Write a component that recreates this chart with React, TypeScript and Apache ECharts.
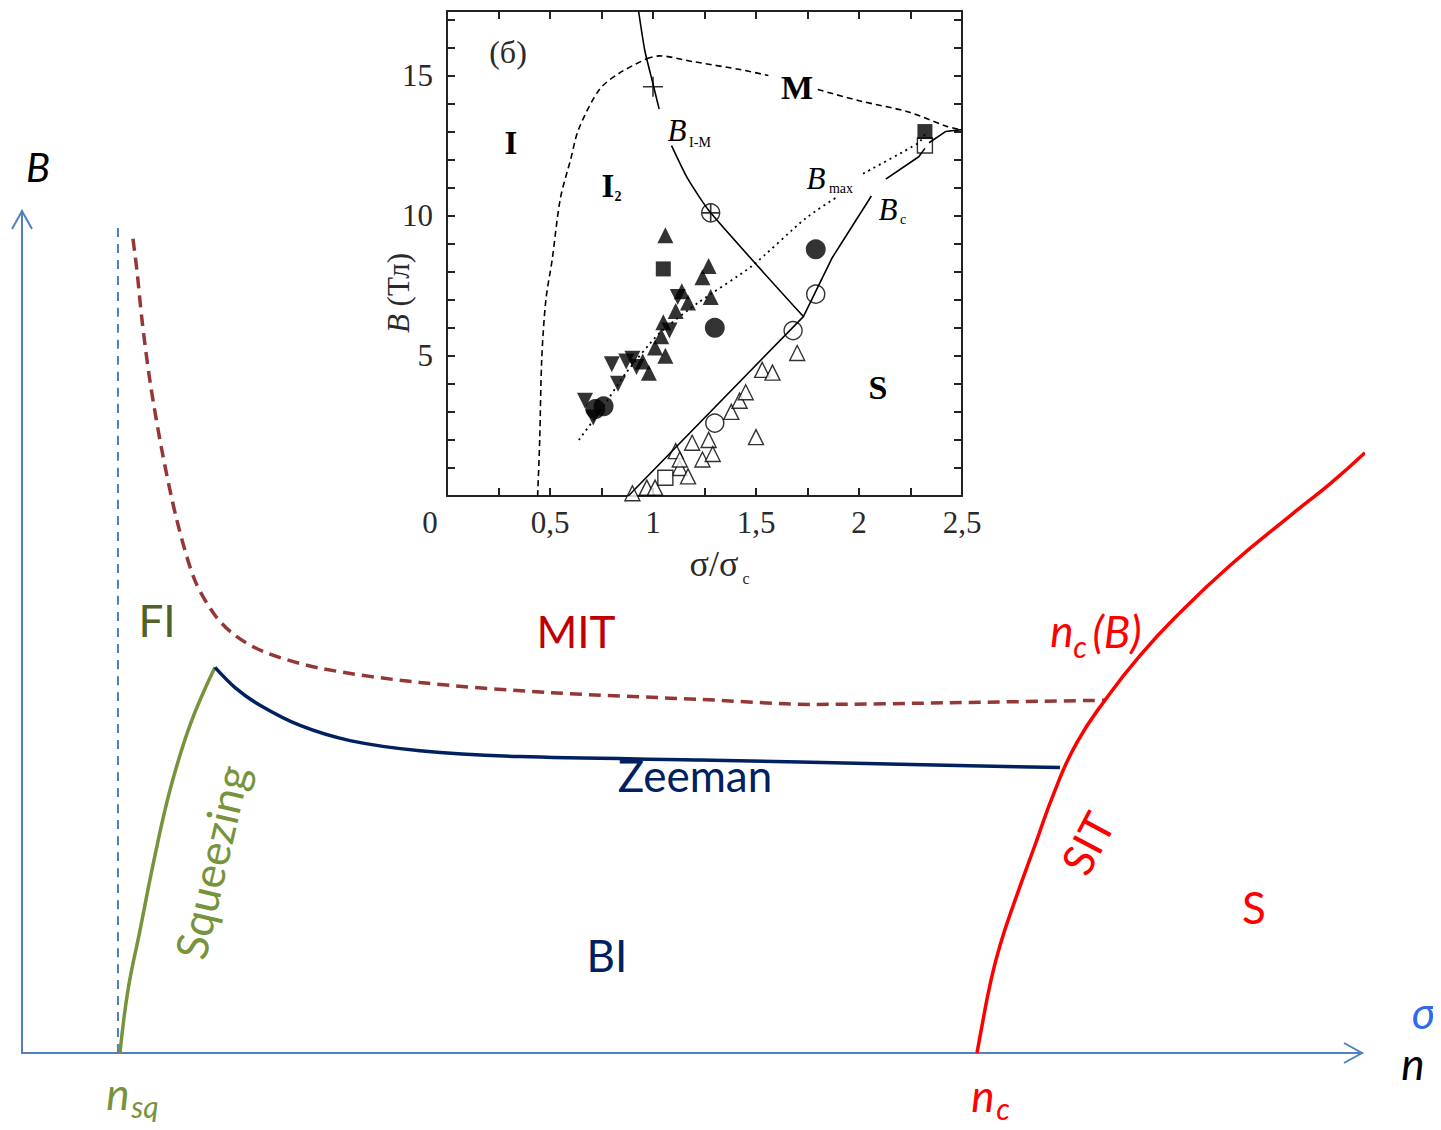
import React, { useEffect, useRef } from "react";
import * as echarts from "echarts";

// ---------- Main schematic (units: n 0..100, B 0..100) ----------
const nsqLine = [[7.16, 0], [7.16, 98.6]];
const squeezing = [[7.31, 0], [7.91, 7.48], [8.81, 14.6], [9.85, 22.9], [11.04, 31.2], [12.54, 38.95], [14.4, 45.8]];
const mitBoundary = [[8.28, 96.7], [8.58, 92.9], [8.96, 87.0], [9.55, 79.8], [10.45, 71.5], [11.57, 63.2], [12.91, 56.1], [14.4, 52.0], [15.9, 49.6], [18.13, 47.6], [22.24, 45.7], [29.7, 44.0], [39.4, 42.8], [50.6, 42.0], [59.18, 41.4], [69.25, 41.6], [80.82, 41.9]];
const zeeman = [[14.4, 45.8], [15.9, 43.4], [17.76, 41.3], [20.75, 38.9], [24.48, 37.1], [29.7, 35.9], [37.16, 35.2], [50.6, 34.8], [65.52, 34.3], [77.46, 33.9]];
const ncB = [[71.27, 0], [71.72, 3.9], [72.24, 8.1], [72.99, 12.8], [74.1, 18.1], [75.6, 24.7], [77.09, 31.2], [78.7, 36.8], [80.82, 41.9], [83.43, 47.2], [86.42, 52.3], [90.15, 57.9], [94.63, 63.8], [97.61, 67.6], [100.22, 71.3]];

// ---------- Inset (sigma/sigma_c, B in T) ----------
const insetXTickLabels = ["0,5", "1", "1,5", "2", "2,5"];
const insetYTickLabels = [5, 10, 15];
const iBoundary = [[0.44, 0], [0.45, 2], [0.46, 4.9], [0.48, 7], [0.51, 8.4], [0.55, 10.6], [0.6, 12], [0.64, 13.1], [0.74, 14.5], [0.84, 15.1], [0.97, 15.6]];
const mBoundaryA = [[0.97, 15.6], [1.03, 15.7], [1.19, 15.5], [1.43, 15.2], [1.56, 15.0]];
const mBoundaryB = [[1.8, 14.5], [2.0, 14.1], [2.24, 13.7], [2.42, 13.2], [2.5, 13.05]];
const bIMA = [[0.93, 17.3], [0.96, 15.9], [1.0, 14.7], [1.03, 13.8]];
const bIMB = [[1.09, 12.5], [1.17, 11.3], [1.28, 10.1], [1.73, 6.4]];
const bCA = [[0.88, 0], [1.73, 6.4], [1.87, 8.5], [2.06, 10.7]];
const bCB = [[2.13, 11.3], [2.29, 12.1], [2.32, 12.4]];
const bCC = [[2.34, 12.6], [2.42, 13.0], [2.5, 13.07]];
const bMaxA = [[0.64, 2.0], [0.75, 3.1], [0.87, 4.4], [1.03, 5.8], [1.22, 6.9], [1.48, 8.2], [1.74, 9.9], [1.9, 10.7]];
const bMaxB = [[2.02, 11.5], [2.29, 12.6], [2.32, 12.9]];

const triUpFilled = [[1.06, 9.3], [1.27, 8.2], [1.24, 7.8], [1.28, 7.1], [1.14, 7.3], [1.17, 6.9], [1.05, 6.2], [1.11, 6.6], [1.06, 5.0], [1.04, 5.7], [0.98, 4.4], [0.95, 4.8], [1.01, 5.3]];
const triDownFilled = [[0.67, 3.4], [0.71, 2.8], [0.8, 4.7], [0.83, 4.0], [0.87, 4.8], [0.92, 4.6], [1.08, 5.9], [1.12, 7.1], [0.9, 4.9]];
const circleFilled = [[0.72, 3.1], [0.76, 3.2], [1.3, 6.0], [1.79, 8.8]];
const squareFilled = [[1.05, 8.1], [2.32, 13.0]];
const triUpOpen = [[0.9, 0.1], [0.97, 0.3], [1.01, 0.3], [1.13, 1.0], [1.17, 0.7], [1.11, 1.6], [1.19, 1.9], [1.24, 1.3], [1.27, 2.0], [1.29, 1.5], [1.38, 3.0], [1.42, 3.4], [1.45, 3.7], [1.53, 4.5], [1.58, 4.4], [1.5, 2.1], [1.7, 5.1], [1.13, 1.3]];
const squareOpen = [[1.06, 0.65], [2.32, 12.5]];
const circleOpen = [[1.3, 2.6], [1.68, 5.9], [1.79, 7.2]];
const circlePlus = [[1.28, 10.1]];
const plusMark = [[1.0, 14.6]];

const AXIS_BLUE = "#4F81BD";
const INK = "#000000";
const LABEL = "#2a2a2a";
const SANS = "Lato, 'Open Sans', sans-serif";
const SERIF = "'Liberation Serif', 'DejaVu Serif', serif";

function txt(x: number, y: number, text: string, opts: any = {}) {
  const { rotation, ...style } = opts;
  return {
    type: "text",
    x,
    y,
    rotation: rotation || 0,
    style: {
      text,
      align: "center",
      verticalAlign: "middle",
      fontFamily: SANS,
      fontSize: 44,
      fill: "#000",
      ...style,
    },
    z: 10,
  };
}

export default function App() {
  const ref = useRef<HTMLDivElement>(null);
  useEffect(() => {
    if (!ref.current) return;
    const chart = echarts.init(ref.current, undefined, { renderer: "svg" });

    const mainLine = (data: number[][], color: string, width: number, type: any = "solid", smooth = 0.3) => ({
      type: "line",
      xAxisIndex: 0,
      yAxisIndex: 0,
      data,
      showSymbol: false,
      smooth,
      clip: false,
      lineStyle: { color, width, type, cap: "butt" },
      silent: true,
    });
    const insetLine = (data: number[][], type: any = "solid", width = 1.6, smooth: any = 0.3) => ({
      type: "line",
      xAxisIndex: 1,
      yAxisIndex: 1,
      data,
      showSymbol: false,
      smooth,
      clip: false,
      lineStyle: { color: INK, width, type },
      silent: true,
    });
    const insetScatter = (data: number[][], symbol: string, size: number, filled: boolean, rotate = 0) => ({
      type: "scatter",
      xAxisIndex: 1,
      yAxisIndex: 1,
      data,
      symbol,
      symbolSize: size,
      symbolRotate: rotate,
      clip: false,
      itemStyle: filled
        ? { color: INK }
        : { color: "#fff", borderColor: INK, borderWidth: 1.4 },
      silent: true,
    });

    const insetXLabel = (v: number) => {
      const i = Math.round(v * 2);
      if (Math.abs(v * 2 - i) > 1e-6 || i < 1) return "";
      return insetXTickLabels[i - 1] || "";
    };
    const insetYLabel = (v: number) => (insetYTickLabels.indexOf(v) >= 0 ? String(v) : "");

    const insetAxisCommon = {
      axisLine: { show: true, onZero: false, lineStyle: { color: "#222", width: 2 } },
      axisTick: { show: true, inside: true, length: 8, lineStyle: { color: "#222", width: 2 } },
      splitLine: { show: false },
    };

    const option: any = {
      animation: false,
      backgroundColor: "#fff",
      grid: [
        { left: 22, top: 211, width: 1340, height: 842 },
        { left: 447, top: 11, width: 515, height: 485 },
      ],
      xAxis: [
        {
          type: "value", gridIndex: 0, min: 0, max: 100,
          axisLine: { show: true, onZero: false, lineStyle: { color: AXIS_BLUE, width: 2 } },
          axisTick: { show: false }, axisLabel: { show: false }, splitLine: { show: false },
        },
        {
          type: "value", gridIndex: 1, min: 0, max: 2.5, interval: 0.25, position: "bottom",
          ...insetAxisCommon,
          axisLabel: {
            show: true, formatter: insetXLabel, margin: 11, color: LABEL,
            fontFamily: SERIF, fontSize: 31, showMinLabel: true, showMaxLabel: true,
          },
        },
        {
          type: "value", gridIndex: 1, min: 0, max: 2.5, interval: 0.25, position: "top",
          ...insetAxisCommon,
          axisLabel: { show: false },
        },
      ],
      yAxis: [
        {
          type: "value", gridIndex: 0, min: 0, max: 100,
          axisLine: { show: true, onZero: false, lineStyle: { color: AXIS_BLUE, width: 2 } },
          axisTick: { show: false }, axisLabel: { show: false }, splitLine: { show: false },
        },
        {
          type: "value", gridIndex: 1, min: 0, max: 17.3, interval: 1, position: "left",
          ...insetAxisCommon,
          axisLabel: {
            show: true, formatter: insetYLabel, margin: 14, color: LABEL,
            fontFamily: SERIF, fontSize: 31, showMaxLabel: false,
          },
        },
        {
          type: "value", gridIndex: 1, min: 0, max: 17.3, interval: 1, position: "right",
          ...insetAxisCommon,
          axisLabel: { show: false },
        },
      ],
      series: [
        mainLine(nsqLine, "#4A7EBB", 2, [9, 7]),
        mainLine(mitBoundary, "#953735", 3.5, [12, 7]),
        mainLine(squeezing, "#77933C", 3.5, "solid", 0.4),
        mainLine(zeeman, "#002060", 3.5),
        mainLine(ncB, "#FF0000", 3.5, "solid", 0.5),

        insetLine(iBoundary, [6, 4], 1.6, 0.3),
        insetLine(mBoundaryA, [6, 4], 1.6, 0.3),
        insetLine(mBoundaryB, [6, 4], 1.6, 0.3),
        insetLine(bIMA, "solid", 1.6, 0.2),
        insetLine(bIMB, "solid", 1.6, 0.2),
        insetLine(bCA, "solid", 1.6, 0),
        insetLine(bCB, "solid", 1.6, 0),
        insetLine(bCC, "solid", 1.6, 0),
        insetLine(bMaxA, [2, 4], 1.8, 0.2),
        insetLine(bMaxB, [2, 4], 1.8, 0.2),

        insetScatter(triUpOpen, "triangle", 15, false),
        insetScatter(squareOpen, "rect", 15, false),
        insetScatter(circleOpen, "circle", 18, false),
        insetScatter(circlePlus, "circle", 18, false),
        insetScatter(circlePlus, "path://M9,0H11V9H20V11H11V20H9V11H0V9H9Z", 17, true),
        insetScatter(plusMark, "path://M9.2,0H10.8V9.2H20V10.8H10.8V20H9.2V10.8H0V9.2H9.2Z", 20, true),
        insetScatter(triUpFilled, "triangle", 16, true),
        insetScatter(triDownFilled, "triangle", 16, true, 180),
        insetScatter(circleFilled, "circle", 20, true),
        insetScatter(squareFilled, "rect", 15, true),
      ],
      graphic: [
        // axis arrowheads (open chevrons)
        { type: "polyline", shape: { points: [[12, 229], [22, 211], [32, 229]] }, style: { stroke: AXIS_BLUE, lineWidth: 2, fill: "none" }, z: 10 },
        { type: "polyline", shape: { points: [[1344, 1043], [1362, 1053], [1344, 1063]] }, style: { stroke: AXIS_BLUE, lineWidth: 2, fill: "none" }, z: 10 },

        // main labels
        txt(38, 167, "B", { fontStyle: "italic", fontSize: 40 }),
        txt(1424, 1012, "σ", { fontStyle: "italic", fontSize: 44, fill: "#2F6BE8" }),
        txt(1413, 1063, "n", { fontStyle: "italic", fontSize: 44 }),
        txt(118, 1093, "n", { fontStyle: "italic", fontSize: 44, fill: "#77933C" }),
        txt(145, 1106, "sq", { fontStyle: "italic", fontSize: 30, fill: "#77933C" }),
        txt(983, 1095, "n", { fontStyle: "italic", fontSize: 44, fill: "#FF0000" }),
        txt(1003, 1108, "c", { fontStyle: "italic", fontSize: 30, fill: "#FF0000" }),
        txt(1062, 630, "n", { fontStyle: "italic", fontSize: 44, fill: "#FF0000" }),
        txt(1080, 646, "c", { fontStyle: "italic", fontSize: 30, fill: "#FF0000" }),
        txt(1117, 631, "(B)", { fontStyle: "italic", fontSize: 44, fill: "#FF0000" }),
        txt(157, 620, "FI", { fill: "#4F6228" }),
        txt(576, 631, "MIT", { fill: "#C00000" }),
        txt(695, 775, "Zeeman", { fill: "#002060" }),
        txt(607, 955, "BI", { fill: "#002060" }),
        txt(1254, 907, "S", { fill: "#FF0000" }),
        txt(211, 862, "Squeezing", { fill: "#77933C", rotation: (77 * Math.PI) / 180 }),
        txt(1087, 843, "SIT", { fill: "#FF0000", rotation: (62 * Math.PI) / 180 }),

        // inset labels
        txt(430, 522, "0", { fontFamily: SERIF, fontSize: 31, fill: LABEL }),
        txt(508, 52, "(б)", { fontFamily: SERIF, fontSize: 32, fill: LABEL }),
        txt(511, 143, "I", { fontFamily: SERIF, fontSize: 33, fontWeight: "bold", fill: INK }),
        txt(608, 186, "I", { fontFamily: SERIF, fontSize: 33, fontWeight: "bold", fill: INK }),
        txt(618, 196, "2", { fontFamily: SERIF, fontSize: 14, fontWeight: "bold", fill: INK }),
        txt(797, 87, "M", { fontFamily: SERIF, fontSize: 34, fontWeight: "bold", fill: INK }),
        txt(878, 387, "S", { fontFamily: SERIF, fontSize: 34, fontWeight: "bold", fill: INK }),
        txt(677, 130, "B", { fontFamily: SERIF, fontSize: 31, fontStyle: "italic", fill: INK }),
        txt(700, 142, "I-M", { fontFamily: SERIF, fontSize: 14, fill: INK }),
        txt(816, 178, "B", { fontFamily: SERIF, fontSize: 31, fontStyle: "italic", fill: INK }),
        txt(841, 188, "max", { fontFamily: SERIF, fontSize: 14, fill: INK }),
        txt(888, 209, "B", { fontFamily: SERIF, fontSize: 31, fontStyle: "italic", fill: INK }),
        txt(903, 219, "c", { fontFamily: SERIF, fontSize: 14, fill: INK }),
        txt(714, 564, "σ/σ", { fontFamily: SERIF, fontSize: 36, fill: LABEL }),
        txt(746, 578, "c", { fontFamily: SERIF, fontSize: 16, fill: LABEL }),
        {
          type: "text", x: 398, y: 293, rotation: Math.PI / 2, z: 10,
          style: {
            text: "{i|B} (Тл)", align: "center", verticalAlign: "middle",
            fontFamily: SERIF, fontSize: 31, fill: LABEL,
            rich: { i: { fontStyle: "italic", fontFamily: SERIF, fontSize: 31, fill: LABEL } },
          },
        },
      ],
    };
    chart.setOption(option);
    return () => chart.dispose();
  }, []);
  return <div ref={ref} style={{ width: 1441, height: 1130, margin: -8 }} />;
}
